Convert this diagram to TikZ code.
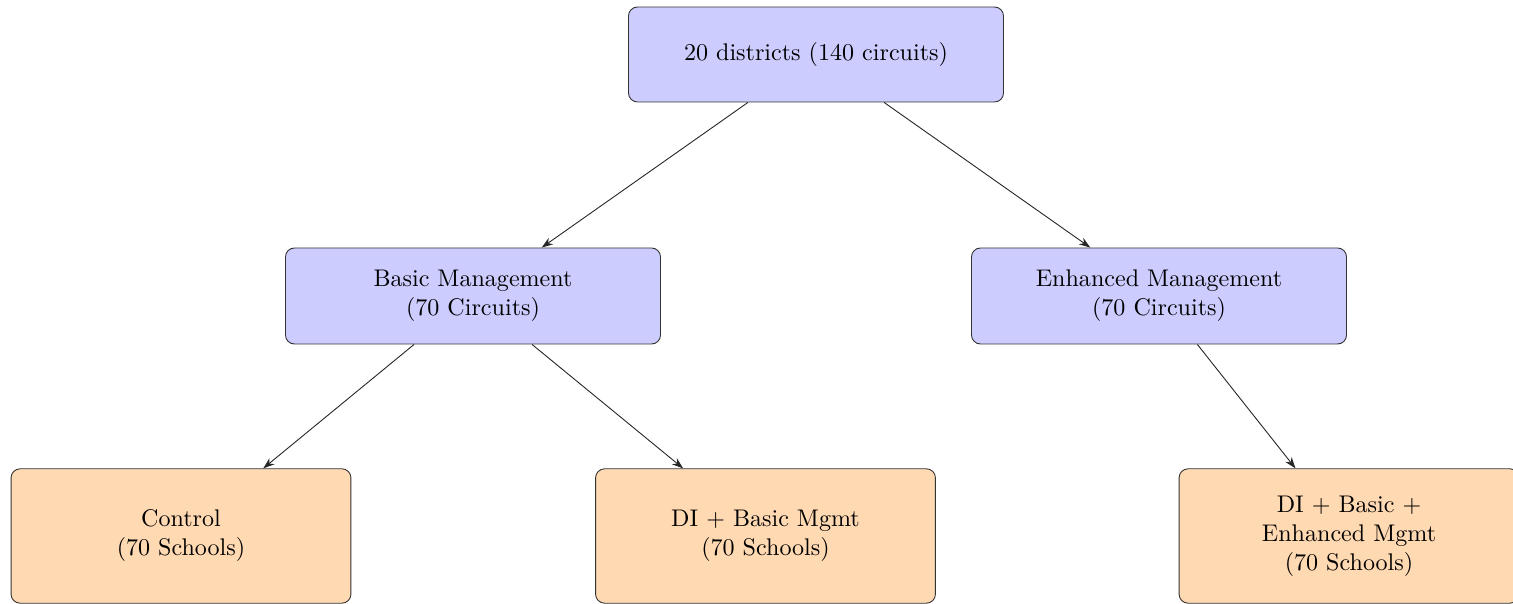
\documentclass[tikz,border=0pt]{standalone}
\usetikzlibrary{arrows.meta}
\begin{document}
\begin{tikzpicture}[x=0.015625cm,y=-0.015625cm,
  every node/.style={font=\fontsize{10.7}{12.9}\selectfont},
  bluebox/.style={draw=black!80, fill=blue!20, rounded corners=4pt, align=center, minimum width=5.86cm},
  orangebox/.style={draw=black!80, fill=orange!30, rounded corners=4pt, align=center, minimum width=5.31cm, minimum height=2.1cm},
  conn/.style={-{Stealth[length=5pt,width=3.5pt]}, black!85}]
\clip (0,0) rectangle (1513,604);
\useasboundingbox (0,0) rectangle (1513,604);
\node[bluebox, minimum height=1.484cm] (top) at (816,54.5) {20 districts (140 circuits)};
\node[bluebox, minimum height=1.5cm] (basic) at (473,296) {Basic Management\\(70 Circuits)};
\node[bluebox, minimum height=1.5cm] (enh) at (1159,296) {Enhanced Management\\(70 Circuits)};
\node[orangebox] (ctrl) at (181,536) {Control\\(70 Schools)};
\node[orangebox] (dib) at (765.5,536) {DI + Basic Mgmt\\(70 Schools)};
\node[orangebox] (dibe) at (1349,536) {DI + Basic +\\Enhanced Mgmt\\(70 Schools)};
\draw[conn] (top) -- (basic);
\draw[conn] (top) -- (enh);
\draw[conn] (basic) -- (ctrl);
\draw[conn] (basic) -- (dib);
\draw[conn] (enh) -- (dibe);
\end{tikzpicture}
\end{document}
